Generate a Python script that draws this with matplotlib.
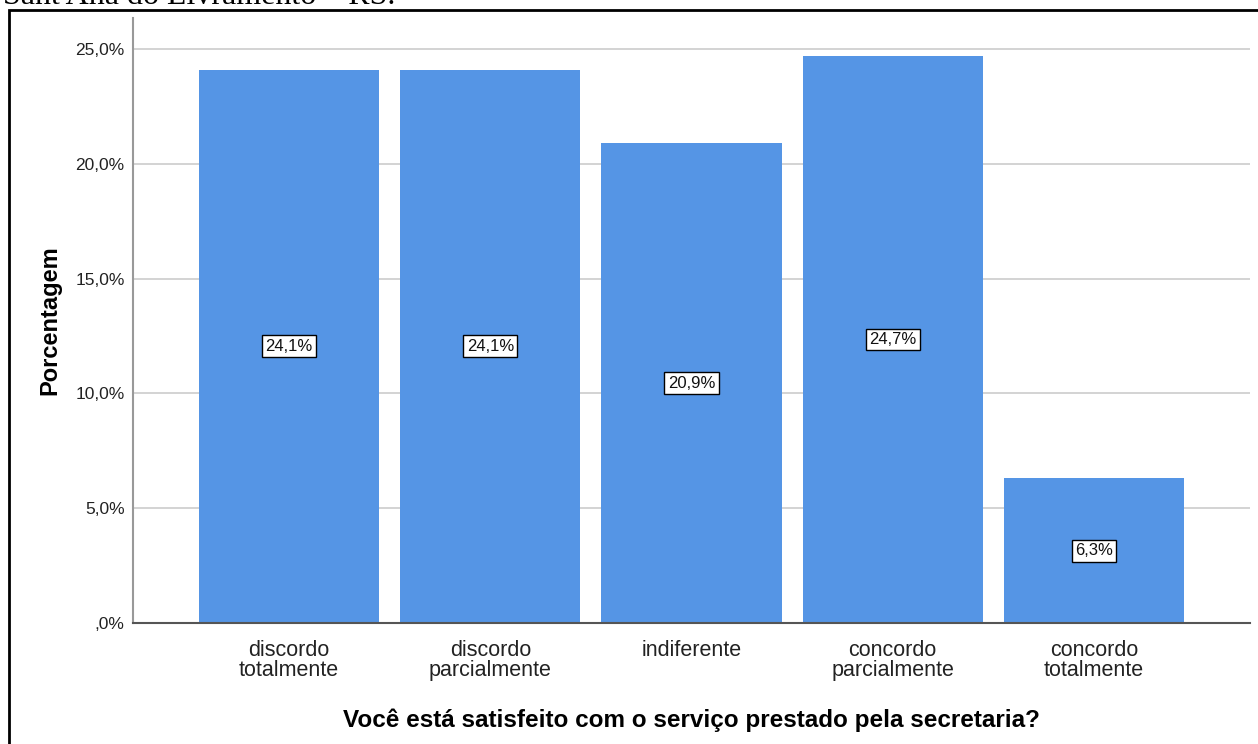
import matplotlib
matplotlib.use("Agg")
import matplotlib.pyplot as plt
from matplotlib.patches import Rectangle
from matplotlib.ticker import FuncFormatter

categories = ["discordo\ntotalmente", "discordo\nparcialmente", "indiferente",
              "concordo\nparcialmente", "concordo\ntotalmente"]
percentages = [24.1, 24.1, 20.9, 24.7, 6.3]
yticks = [0, 5, 10, 15, 20, 25]

BAR_COLOR = "#5595e5"
FONT = "Liberation Sans"

W, H = 1258, 744
fig = plt.figure(figsize=(W / 100, H / 100), dpi=100)

# cut-off caption line of the source document and the frame around the chart
fig.text(0.002, 1 - 3.5 / H, "Sant'Ana do Livramento \u2013 RS.", family="Liberation Serif",
         fontsize=23, ha="left", va="baseline")
fig.patches.append(Rectangle((9 / W, -0.1), 1.2, 1.1 - 10.5 / H, transform=fig.transFigure,
                             fill=False, edgecolor="black", linewidth=2))

ax = fig.add_axes([133 / W, 1 - 623 / H, (1250 - 133) / W, (623 - 18) / H])
x = range(len(categories))
ax.bar(x, percentages, width=0.896, color=BAR_COLOR, zorder=2)

for xi, v in zip(x, percentages):
    ax.text(xi, v / 2, f"{v:.1f}%".replace(".", ","), ha="center", va="center",
            family=FONT, fontsize=12, color="#111111", zorder=3,
            bbox=dict(boxstyle="square,pad=0.2", facecolor="white",
                      edgecolor="black", linewidth=1))


def pct(v, _):
    s = ("%.1f%%" % v).replace(".", ",")
    return s[1:] if v == 0 else s


ax.set_xlim(-0.776, 4.776)
ax.set_ylim(0, 26.35)
ax.set_yticks(yticks)
ax.yaxis.set_major_formatter(FuncFormatter(pct))
ax.set_xticks(list(x))
ax.set_xticklabels(categories, family=FONT, fontsize=15.5, color="#222222", linespacing=0.95)
for lbl in ax.get_yticklabels():
    lbl.set_family(FONT)
    lbl.set_fontsize(12.5)
    lbl.set_color("#222222")
ax.tick_params(axis="both", length=0)
ax.tick_params(axis="x", pad=12)
ax.tick_params(axis="y", pad=6)

ax.grid(axis="y", color="#cccccc", linewidth=1.2, zorder=0)
for s in ["top", "right"]:
    ax.spines[s].set_visible(False)
ax.spines["left"].set_color("#999999")
ax.spines["left"].set_linewidth(1.5)
ax.spines["bottom"].set_color("#555555")
ax.spines["bottom"].set_linewidth(1.5)
ax.spines["bottom"].set_zorder(4)

ax.set_ylabel("Porcentagem", family=FONT, fontsize=17, fontweight="bold", labelpad=10)
ax.set_xlabel("Você está satisfeito com o serviço prestado pela secretaria?",
              family=FONT, fontsize=17.5, fontweight="bold", labelpad=20)

fig.savefig("out.png", dpi=100)
